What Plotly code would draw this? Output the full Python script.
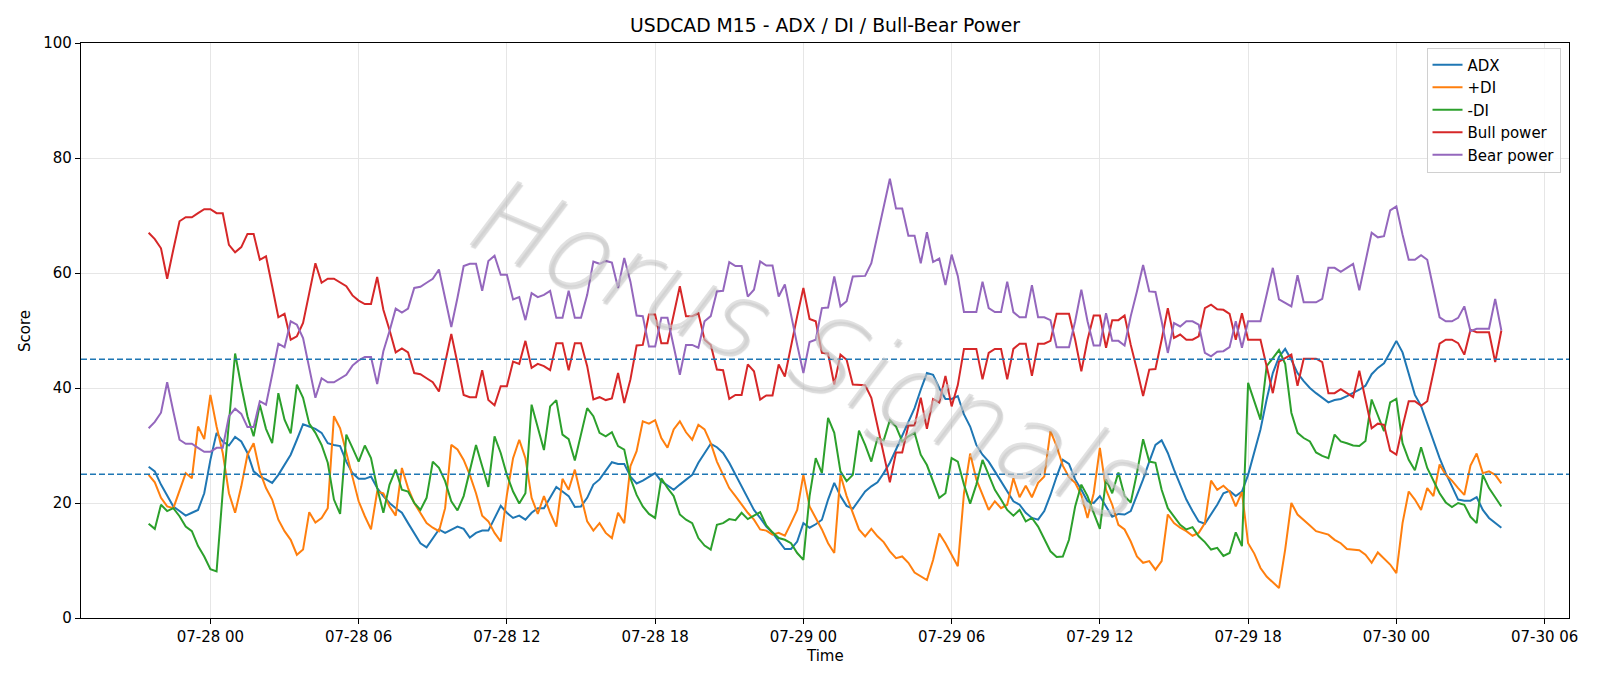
import pandas as pd
import plotly.graph_objects as go

# ---- data (M15 bars, 07-27 21:30 -> 07-30 04:15) ----
start_time = "2025-07-27 21:30"
n_bars = 220

adx = [
    26.3,25.5,23.2,21.2,19.4,18.6,17.8,18.3,18.8,21.7,27.5,32.2,30.7,30.0,31.5,30.7,28.7,25.5,24.6,24.1,
    23.5,24.9,26.7,28.4,31.0,33.7,33.3,32.9,32.2,30.4,30.1,29.9,27.2,25.2,24.2,24.2,24.6,22.6,21.2,20.0,
    19.1,18.3,16.5,14.8,13.0,12.3,13.9,15.4,14.8,15.4,15.9,15.5,14.0,14.8,15.2,15.2,17.4,19.5,18.3,17.4,
    17.8,17.1,18.3,19.1,19.1,20.9,22.8,22.0,21.2,19.3,19.4,20.9,23.2,24.1,25.5,27.1,26.8,26.8,24.6,23.4,
    23.9,24.5,25.2,23.8,23.0,22.3,23.2,24.1,24.9,27.0,28.7,30.3,29.7,28.7,27.0,24.9,22.9,20.9,18.8,17.4,
    15.9,14.8,13.5,12.0,12.0,13.3,16.5,15.7,16.3,17.1,20.6,23.5,21.2,19.5,19.0,20.6,22.0,22.9,23.6,25.2,
    27.0,29.3,31.6,33.9,36.5,39.7,42.6,42.3,40.0,38.1,38.1,38.6,35.4,33.3,30.1,28.4,27.2,25.5,23.8,22.0,
    20.3,19.7,18.3,17.4,17.1,18.6,21.4,24.6,27.5,26.8,24.1,22.3,20.3,20.0,21.2,19.4,17.6,18.1,18.0,18.6,
    21.2,24.1,27.2,30.1,30.9,28.7,25.8,23.2,20.6,18.6,16.8,16.4,18.0,19.7,21.7,22.1,21.2,22.0,24.9,28.7,
    32.8,38.0,42.6,45.4,46.8,44.9,42.6,41.2,40.0,39.1,38.3,37.5,37.9,38.1,38.6,39.1,39.7,40.4,42.4,43.5,
    44.3,46.2,48.2,46.2,42.6,38.8,36.9,33.9,30.6,27.8,25.2,22.9,20.6,20.4,20.4,21.0,18.8,17.4,16.5,15.7,
]

plus_di = [
    24.9,23.6,20.9,19.4,19.1,22.0,25.2,24.3,33.3,31.1,38.8,33.3,28.7,21.7,18.3,22.9,28.4,30.4,25.5,22.6,
    20.6,17.1,15.1,13.6,11.0,11.9,18.4,16.6,17.4,19.1,35.1,33.0,28.7,24.1,20.3,17.7,15.4,22.0,21.7,19.4,
    17.8,26.1,22.6,20.0,18.3,16.5,15.7,15.1,19.1,30.1,29.3,27.5,24.9,21.7,17.8,16.8,14.8,13.3,21.4,27.8,
    31.0,27.8,20.9,18.1,21.2,18.3,15.9,24.2,22.3,25.8,21.2,16.8,15.2,16.5,14.8,13.9,18.3,16.5,26.4,29.0,
    34.2,33.8,34.4,31.3,29.6,32.8,34.2,32.3,31.0,33.6,32.8,30.4,27.2,24.9,22.6,21.2,19.7,18.3,17.1,15.4,
    15.2,14.5,14.8,14.3,16.5,18.8,24.9,19.4,17.4,15.4,13.0,11.3,24.9,21.2,18.3,15.4,14.2,15.5,14.2,13.2,
    11.6,10.4,10.7,9.6,7.9,7.2,6.6,10.1,14.7,13.0,11.0,9.0,21.7,28.6,24.1,21.4,18.8,20.3,19.1,19.7,
    24.3,21.0,23.0,21.0,23.5,24.6,32.5,29.9,26.5,24.5,23.5,21.4,17.4,21.7,29.6,22.3,19.7,16.2,15.4,13.3,
    10.7,9.6,9.9,8.4,9.9,18.0,16.5,15.7,15.1,14.3,14.8,16.5,23.9,22.3,23.0,22.0,19.4,21.9,13.0,11.2,
    8.7,7.2,6.2,5.2,11.9,20.0,18.0,17.1,16.1,15.1,14.8,14.5,13.6,13.0,12.0,11.9,11.8,11.0,9.6,11.4,
    10.4,9.3,7.8,16.5,22.0,20.6,18.8,22.6,21.2,26.7,24.9,23.9,22.6,21.4,26.5,28.6,25.2,25.5,24.9,23.4,
]

minus_di = [
    16.4,15.5,19.7,18.6,19.1,17.7,15.9,15.1,12.5,10.7,8.5,8.1,22.0,34.0,46.0,40.3,35.1,31.6,37.1,32.9,
    30.4,39.1,34.5,32.1,40.6,38.3,33.8,32.2,30.1,27.0,20.6,18.1,31.9,29.6,27.2,30.0,27.8,22.6,18.3,23.2,
    25.8,22.3,22.0,20.0,18.8,20.9,27.2,26.1,23.8,20.3,18.7,21.2,25.5,30.1,26.4,22.8,31.6,28.7,24.9,22.0,
    19.9,21.7,37.1,33.0,29.2,36.8,37.9,31.9,31.1,27.4,31.9,36.5,35.1,32.2,31.6,32.3,29.9,29.3,24.3,21.4,
    19.4,18.1,17.4,24.3,22.6,21.2,18.0,17.1,16.5,13.9,12.6,11.9,16.2,16.5,17.2,17.0,18.3,17.2,17.8,18.4,
    16.1,14.9,13.9,13.6,13.0,11.3,10.1,21.2,27.8,25.2,34.8,32.2,25.5,23.8,24.9,32.6,30.1,27.2,31.3,30.9,
    34.4,33.3,30.7,31.6,32.2,28.4,26.6,23.8,20.9,21.7,27.8,27.2,23.2,19.9,23.2,27.5,24.9,22.3,20.6,18.8,
    17.8,18.8,16.8,17.4,15.9,13.6,11.6,10.6,10.7,13.6,19.4,23.2,21.2,18.3,15.5,24.1,21.7,25.3,21.2,20.1,
    25.2,31.1,27.2,27.0,22.3,19.1,17.6,16.2,15.4,15.8,14.2,13.2,11.9,12.2,10.8,11.3,14.9,12.5,40.9,37.7,
    34.5,43.8,45.2,46.6,44.2,35.7,32.2,31.3,30.7,28.8,28.2,27.8,31.9,30.7,30.4,30.0,29.9,30.8,38.0,35.2,
    32.5,37.5,38.1,30.4,27.5,25.7,29.7,26.1,23.8,21.7,20.1,19.3,20.0,19.7,17.6,16.5,24.9,22.6,21.0,19.4,
]

bull_power = [
    67.0,65.9,64.3,59.0,64.1,69.0,69.7,69.7,70.4,71.1,71.1,70.4,70.4,64.9,63.6,64.5,66.8,66.8,62.3,62.9,
    57.7,52.3,52.9,48.4,49.0,51.3,56.5,61.7,58.3,59.0,59.0,58.4,57.7,56.1,55.2,54.6,54.6,59.3,53.6,50.1,
    46.2,46.9,46.2,42.6,42.4,41.7,41.0,39.4,44.3,49.4,44.3,38.8,38.4,38.4,43.1,37.9,37.0,40.3,40.3,44.6,
    44.2,48.2,43.5,44.2,43.8,43.1,47.8,47.8,43.1,47.8,47.8,43.8,38.0,38.4,37.9,38.2,42.6,37.4,41.5,47.4,
    47.5,52.8,52.8,47.8,47.8,52.8,57.7,52.5,52.5,53.0,48.4,47.5,43.2,43.1,38.1,38.8,38.8,44.1,42.9,38.0,
    38.7,38.7,44.1,42.0,47.5,52.5,57.4,52.0,51.6,46.1,46.0,40.6,45.8,44.9,40.6,40.6,40.5,38.3,33.3,28.7,
    23.6,28.8,28.8,33.5,33.5,38.3,32.9,38.1,37.5,42.1,36.8,40.5,46.8,46.8,46.8,41.5,46.1,46.8,46.8,41.5,
    46.8,47.7,47.7,42.1,47.7,47.7,48.2,52.9,52.9,52.9,48.4,42.9,48.4,52.6,52.6,47.0,51.8,51.8,52.6,47.5,
    43.2,38.6,43.2,43.3,48.4,53.9,48.7,49.3,48.4,48.4,49.0,53.9,54.5,53.7,53.6,52.9,48.4,53.0,48.4,48.4,
    48.4,43.8,39.1,44.6,45.2,45.8,40.4,45.1,45.1,45.1,44.5,39.1,39.1,39.8,39.1,38.4,43.0,38.0,33.0,33.8,
    33.6,29.1,28.4,33.3,37.7,37.7,36.9,37.7,42.6,47.7,48.4,48.4,47.8,45.8,50.1,49.7,49.7,49.7,44.5,50.0,
]

bear_power = [
    33.0,34.1,35.7,41.0,35.9,31.0,30.3,30.3,29.6,28.9,28.9,29.6,29.6,35.1,36.4,35.5,33.2,33.2,37.7,37.1,
    42.3,47.7,47.1,51.6,51.0,48.7,43.5,38.3,41.7,41.0,41.0,41.6,42.3,43.9,44.8,45.4,45.4,40.7,46.4,49.9,
    53.8,53.1,53.8,57.4,57.6,58.3,59.0,60.6,55.7,50.6,55.7,61.2,61.6,61.6,56.9,62.1,63.0,59.7,59.7,55.4,
    55.8,51.8,56.5,55.8,56.2,56.9,52.2,52.2,56.9,52.2,52.2,56.2,62.0,61.6,62.1,61.8,57.4,62.6,58.5,52.6,
    52.5,47.2,47.2,52.2,52.2,47.2,42.3,47.5,47.5,47.0,51.6,52.5,56.8,56.9,61.9,61.2,61.2,55.9,57.1,62.0,
    61.3,61.3,55.9,58.0,52.5,47.5,42.6,48.0,48.4,53.9,54.0,59.4,54.2,55.1,59.4,59.4,59.5,61.7,66.7,71.3,
    76.4,71.2,71.2,66.5,66.5,61.7,67.1,61.9,62.5,57.9,63.2,59.5,53.2,53.2,53.2,58.5,53.9,53.2,53.2,58.5,
    53.2,52.3,52.3,57.9,52.3,52.3,51.8,47.1,47.1,47.1,51.6,57.1,51.6,47.4,47.4,53.0,48.2,48.2,47.4,52.5,
    56.8,61.4,56.8,56.7,51.6,46.1,51.3,50.7,51.6,51.6,51.0,46.1,45.5,46.3,46.4,47.1,51.6,47.0,51.6,51.6,
    51.6,56.2,60.9,55.4,54.8,54.2,59.6,54.9,54.9,54.9,55.5,60.9,60.9,60.2,60.9,61.6,57.0,62.0,67.0,66.2,
    66.4,70.9,71.6,66.7,62.3,62.3,63.1,62.3,57.4,52.3,51.6,51.6,52.2,54.2,49.9,50.3,50.3,50.3,55.5,50.0,
]

series_names = ["ADX", "+DI", "-DI", "Bull power", "Bear power"]
threshold_levels = [45, 25]

# ---- styling ----
colors = ["#1f77b4", "#ff7f0e", "#2ca02c", "#d62728", "#9467bd"]
FONT = "DejaVu Sans"

times = pd.date_range(start_time, periods=n_bars, freq="15min")
for arr in (adx, plus_di, minus_di, bull_power, bear_power):
    assert len(arr) == n_bars, len(arr)

fig = go.Figure()
for name, vals, col in zip(series_names, [adx, plus_di, minus_di, bull_power, bear_power], colors):
    fig.add_trace(go.Scatter(x=times, y=vals, mode="lines", name=name,
                             line=dict(color=col, width=2)))

for lvl in threshold_levels:
    fig.add_hline(y=lvl, line=dict(color="#1f77b4", dash="6px,3px", width=1.5))

span = times[-1] - times[0]
xr = [times[0] - span * 0.05, times[-1] + span * 0.05]

axis_common = dict(
    showgrid=True, gridcolor="#e6e6e6", gridwidth=1,
    showline=True, linecolor="black", linewidth=1.2, mirror=True,
    ticks="outside", ticklen=5, tickwidth=1.2, tickcolor="black",
    tickfont=dict(family=FONT, size=15, color="black"),
    zeroline=False,
)

fig.update_layout(
    width=1600, height=686,
    paper_bgcolor="white", plot_bgcolor="white",
    margin=dict(l=81, r=31, t=43, b=68, pad=0),
    font=dict(family=FONT, size=15, color="black"),
    title=dict(text="USDCAD M15 - ADX / DI / Bull-Bear Power",
               x=0.5, xref="paper", xanchor="center",
               y=1 - 25.5 / 686, yref="container", yanchor="middle",
               font=dict(family=FONT, size=18.8, color="black")),
    xaxis=dict(type="date", range=xr, tickformat="%m-%d %H",
               tick0="2025-07-28 00:00", dtick=6 * 3600 * 1000, **axis_common),
    yaxis=dict(range=[0, 100], dtick=20, **axis_common),
    legend=dict(x=0.9943, y=0.992, xanchor="right", yanchor="top",
                bgcolor="rgba(255,255,255,0.85)", bordercolor="#d0d0d0", borderwidth=1,
                font=dict(family=FONT, size=15, color="black"),
                tracegroupgap=0, itemwidth=30),
    showlegend=True,
    annotations=[
        dict(text="Time", x=0.5, y=-0.0656, xref="paper", yref="paper",
             xanchor="center", yanchor="middle", showarrow=False,
             font=dict(family=FONT, size=15, color="black")),
        dict(text="Score", x=-0.038, y=0.5, xref="paper", yref="paper",
             xanchor="center", yanchor="middle", textangle=-90, showarrow=False,
             font=dict(family=FONT, size=15, color="black")),
        dict(text="Horus Signals", x=0.487, y=0.47, xref="paper", yref="paper",
             xanchor="center", yanchor="middle", textangle=23, showarrow=False,
             font=dict(family="DejaVu Sans Light, DejaVu Sans ExtraLight, DejaVu Sans",
                       size=106, weight=200, style="italic",
                       color="rgba(205,205,205,0.6)",
                       shadow="2px 2px 1px rgba(100,100,100,0.4)")),
    ],
)

fig.write_html("out.html")
